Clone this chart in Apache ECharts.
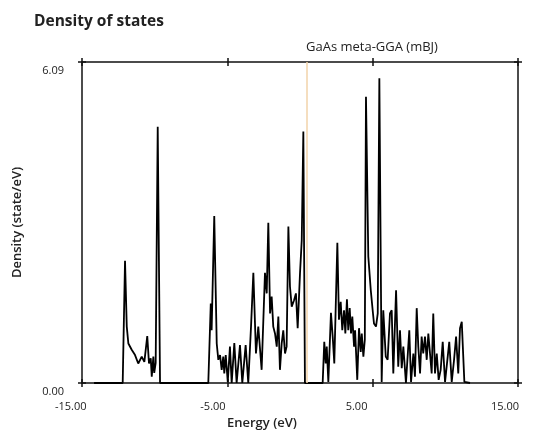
<!DOCTYPE html>
<html>
<head>
<meta charset="utf-8">
<script src="https://cdn.jsdelivr.net/npm/echarts@6/dist/echarts.min.js"></script>
<style>html,body{margin:0;padding:0;background:#fff}#chart{width:536px;height:431px}</style>
</head>
<body>
<div id="chart"></div>
<script>
var titleText = 'Density of states';
var subtitleText = 'GaAs meta-GGA (mBJ)';
var xAxisName = 'Energy (eV)';
var yAxisName = 'Density (state/eV)';
var xMin = -15, xMax = 15, xStep = 10;
var yMin = 0, yMax = 6.09;
var fermiLevel = 0.45;

var energy = [
  -14.17, -12.20, -12.04, -11.92, -11.81, -11.58, -11.35, -11.13, -10.89, -10.71,
  -10.51, -10.39, -10.27, -10.20, -10.09, -10.03, -9.93, -9.79, -9.63, -6.31,
  -6.14, -6.08, -5.90, -5.73, -5.62, -5.50, -5.39, -5.28, -5.21, -5.11,
  -4.97, -4.82, -4.70, -4.52, -4.36, -4.13, -3.97, -3.74, -3.56, -3.37,
  -3.21, -3.03, -2.87, -2.64, -2.41, -2.29, -2.18, -2.06, -1.95, -1.84,
  -1.72, -1.60, -1.49, -1.38, -1.26, -1.15, -1.03, -0.92, -0.80, -0.69,
  -0.57, -0.41, -0.28, -0.16, 0.00, 0.12, 0.23, 0.34, 1.56, 1.67,
  1.77, 1.84, 1.95, 2.13, 2.25, 2.36, 2.57, 2.68, 2.80, 2.91,
  3.03, 3.12, 3.23, 3.32, 3.42, 3.51, 3.60, 3.72, 3.79, 3.94,
  4.06, 4.18, 4.25, 4.36, 4.46, 4.54, 4.70, 4.87, 5.00, 5.09,
  5.23, 5.35, 5.46, 5.62, 5.73, 5.90, 6.03, 6.19, 6.31, 6.42,
  6.61, 6.76, 6.88, 7.00, 7.11, 7.29, 7.52, 7.64, 7.80, 7.91,
  8.03, 8.14, 8.26, 8.37, 8.48, 8.60, 8.72, 8.83, 8.95, 9.06,
  9.17, 9.29, 9.41, 9.54, 9.68, 9.82, 9.98, 10.14, 10.27, 10.44,
  10.60, 10.74, 10.89, 11.01, 11.13, 11.31, 11.70
];
var density = [
  0, 0, 2.32, 1.07, 0.75, 0.63, 0.53, 0.37, 0.50, 0.40,
  0.89, 0.37, 0.47, 0.12, 0.50, 0.19, 0.38, 4.86, 0, 0,
  1.51, 1.00, 3.17, 0.75, 0.44, 0.53, 0.25, 0.50, 0.18, 0.53,
  0.02, 0.69, 0, 0.76, 0, 0.72, 0, 0.72, 0, 1.07,
  2.09, 0.56, 1.07, 0.25, 2.09, 1.70, 3.04, 1.32, 1.64, 1.07,
  0.94, 0.69, 1.26, 0.25, 0.75, 1.00, 0.56, 0.69, 2.97, 1.83,
  1.45, 1.57, 1.70, 1.04, 2.08, 2.71, 4.77, 0, 0, 0.78,
  0.37, 0.69, 0.02, 1.33, 0.88, 0.37, 2.66, 1.20, 1.54, 1.00,
  1.38, 0.94, 1.59, 1.00, 1.42, 0.94, 1.26, 0.69, 1.00, 0.06,
  1.04, 0.59, 0.94, 0.50, 0.82, 5.43, 2.40, 1.76, 1.38, 1.13,
  1.07, 1.32, 5.78, 0.02, 1.38, 0.50, 0.44, 1.32, 1.38, 0.18,
  1.76, 0.31, 1.00, 0.28, 0.69, 0, 1.00, 0.02, 0.56, 0.12,
  1.42, 0.69, 0.18, 0.88, 0.56, 0.88, 0.44, 0.94, 0.97, 0.18,
  1.32, 0.18, 0.56, 0.06, 0.25, 0.78, 0.02, 0.44, 0.78, 0.02,
  0.44, 0.88, 0.18, 1.04, 1.16, 0.02, 0
];

var points = energy.map(function (e, i) { return [e, density[i]]; });
var font = 'Open Sans';
var axisColor = '#111';

function xAx(pos, inside, labels) {
  return {
    type: 'value', position: pos, min: xMin, max: xMax, interval: xStep,
    name: labels ? xAxisName : '', nameLocation: 'middle', nameGap: 34,
    nameTextStyle: { fontFamily: font, fontSize: 13, fontWeight: 600, color: '#222', padding: [0, 76, 0, 0] },
    axisLine: { show: !inside, onZero: false, lineStyle: { color: axisColor, width: 1.5 } },
    axisTick: { show: true, inside: inside, length: 4, lineStyle: { color: axisColor, width: 1.5 } },
    axisLabel: { show: labels, fontFamily: font, fontSize: 11, color: '#222', align: 'left', margin: 18,
      padding: [0, 0, 0, -27],
      formatter: function (v) { return v.toFixed(2); } },
    splitLine: { show: false }
  };
}
function yAx(pos, inside, labels) {
  return {
    type: 'value', position: pos, min: yMin, max: yMax, interval: yMax,
    name: labels ? yAxisName : '', nameLocation: 'middle', nameGap: 58,
    nameTextStyle: { fontFamily: font, fontSize: 13, fontWeight: 600, color: '#222' },
    axisLine: { show: !inside, onZero: false, lineStyle: { color: axisColor, width: 1.5 } },
    axisTick: { show: true, inside: inside, length: 4, lineStyle: { color: axisColor, width: 1.5 } },
    axisLabel: { show: labels, fontFamily: font, fontSize: 11, color: '#222', margin: 18,
      verticalAlign: 'top', padding: [3, 0, 0, 0],
      formatter: function (v) { return v.toFixed(2); } },
    splitLine: { show: false }
  };
}

var chart = echarts.init(document.getElementById('chart'), null, { renderer: 'canvas' });
chart.setOption({
  animation: false,
  backgroundColor: '#fff',
  title: [
    { text: titleText, left: 29, top: 9, textStyle: { fontFamily: font, fontSize: 15.5, fontWeight: 'bold', color: '#222' } },
    { text: subtitleText, left: 301, top: 36, textStyle: { fontFamily: font, fontSize: 13, fontWeight: 'normal', color: '#222' } }
  ],
  grid: { left: 82, right: 18, top: 62, bottom: 48, containLabel: false, outerBoundsMode: 'none' },
  xAxis: [xAx('bottom', false, true), xAx('bottom', true, false), xAx('top', false, false), xAx('top', true, false)],
  yAxis: [yAx('left', false, true), yAx('left', true, false), yAx('right', false, false), yAx('right', true, false)],
  series: [{
    type: 'line', xAxisIndex: 0, yAxisIndex: 0,
    data: points, showSymbol: false, symbol: 'none',
    lineStyle: { color: '#000', width: 1.8 },
    markLine: {
      silent: true, symbol: 'none', animation: false,
      label: { show: false },
      lineStyle: { color: '#f2d3aa', width: 1.5, type: 'solid' },
      data: [{ xAxis: fermiLevel }]
    }
  }]
});
</script>
</body>
</html>
